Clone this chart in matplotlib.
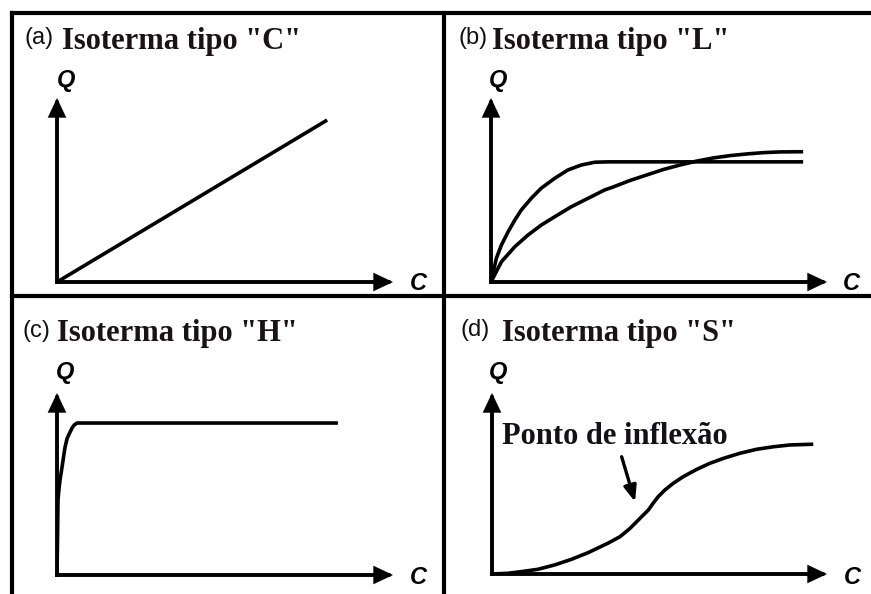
import matplotlib
matplotlib.use("Agg")
import matplotlib.pyplot as plt
from matplotlib.lines import Line2D

W, H = 871, 594

# (a) tipo C: reta
a_c = [0.0, 8.04]
a_q = [0.0, 8.80]

# (b) tipo L: duas curvas
b1_c = [0.0, 0.16, 0.31, 0.51, 0.71, 0.90, 1.20, 1.49, 1.90, 2.29, 2.69, 3.09, 3.48, 9.29]
b1_q = [0.0, 1.29, 2.01, 2.73, 3.37, 3.91, 4.55, 5.09, 5.64, 6.09, 6.36, 6.51, 6.53, 6.53]
b2_c = [0.0, 0.31, 0.71, 1.10, 1.50, 1.90, 2.39, 2.89, 3.38, 3.63, 4.14, 4.64,
        5.14, 5.63, 6.12, 6.61, 7.12, 7.62, 8.10, 8.60, 9.29]
b2_q = [0.0, 1.10, 1.92, 2.55, 3.10, 3.55, 4.09, 4.55, 5.00, 5.16, 5.52, 5.82,
        6.12, 6.36, 6.57, 6.74, 6.87, 6.96, 7.03, 7.07, 7.08]

# (c) tipo H
c_c = [0.0, 0.015, 0.03, 0.06, 0.09, 0.15, 0.20, 0.24, 0.30, 0.39, 0.45, 0.51, 0.60, 8.36]
c_q = [0.0, 1.92, 4.12, 4.75, 5.22, 5.93, 6.55, 7.03, 7.50, 7.86, 8.08, 8.24, 8.35, 8.35]

# (d) tipo S
d_c = [0.0, 0.48, 0.87, 1.37, 1.87, 2.37, 2.87, 3.46, 3.82, 4.12, 4.42, 4.67, 4.81,
       4.96, 5.16, 5.41, 5.71, 6.11, 6.51, 6.91, 7.40, 7.90, 8.40, 8.90, 9.59]
d_q = [0.0, 0.04, 0.13, 0.26, 0.50, 0.81, 1.18, 1.70, 2.06, 2.52, 3.08, 3.54, 3.91,
       4.27, 4.64, 5.01, 5.38, 5.78, 6.12, 6.39, 6.67, 6.89, 7.03, 7.13, 7.17]
d_arrow_from = (3.87, 6.48)
d_arrow_to = (4.27, 3.99)

tags = ["(a)", "(b)", "(c)", "(d)"]
titles = ['Isoterma tipo "C"', 'Isoterma tipo "L"', 'Isoterma tipo "H"', 'Isoterma tipo "S"']

# caixa dos eixos em pixels: esquerda, direita, base, topo
boxes = [(57, 393, 282, 98), (491, 827, 282, 98),
         (57, 393, 575, 393), (492, 827, 574, 393)]
# posicoes dos textos em pixels
tag_pos = [(24, 38), (458, 38), (22, 331), (460, 330)]
title_pos = [(62, 41), (492, 41), (57, 334), (502, 334)]
q_pos = [(66, 80), (498, 80), (65, 372), (498, 373)]
c_pos = [(418, 284), (851, 284), (418, 577), (852, 577)]


def fx(px):
    return px / W


def fy(py):
    return 1 - py / H


fig = plt.figure(figsize=(W / 100, H / 100), dpi=100)
fig.patch.set_facecolor("white")

# moldura
frame = [((12, 871), (13, 13)), ((12, 12), (13, 594)),
         ((444, 444), (13, 594)), ((12, 871), (296, 296))]
for xs, ys in frame:
    fig.add_artist(Line2D([fx(x) for x in xs], [fy(y) for y in ys],
                          color="black", lw=3.0, solid_capstyle="projecting",
                          transform=fig.transFigure))

axes = []
for (l, r, b, t) in boxes:
    ax = fig.add_axes([fx(l), fy(b), (r - l) / W, (b - t) / H])
    ax.set_xlim(0, 10)
    ax.set_ylim(0, 10)
    ax.axis("off")
    ax.patch.set_alpha(0)
    arr = dict(arrowstyle="-|>,head_length=0.95,head_width=0.45", lw=2.8,
               color="black", shrinkA=0, shrinkB=0, capstyle="projecting",
               joinstyle="miter")
    ax.annotate("", xy=(1, 0), xytext=(0, 0), xycoords="axes fraction",
                arrowprops=arr)
    ax.annotate("", xy=(0, 1), xytext=(0, 0), xycoords="axes fraction",
                arrowprops=arr)
    axes.append(ax)

curve = dict(color="black", lw=2.6, solid_joinstyle="round", solid_capstyle="butt")
axes[0].plot(a_c, a_q, **curve)
axes[1].plot(b1_c, b1_q, **curve)
axes[1].plot(b2_c, b2_q, **curve)
axes[2].plot(c_c, c_q, **curve)
axes[3].plot(d_c, d_q, **curve)

axes[3].text(0.3, 7.6, "Ponto de inflexão", family="Liberation Serif",
             fontweight="bold", fontsize=22, color="#141018",
             ha="left", va="center")
axes[3].annotate("", xy=d_arrow_to, xytext=d_arrow_from,
                 arrowprops=dict(arrowstyle="-|>,head_length=0.95,head_width=0.38",
                                 lw=2.4, color="black", shrinkA=0, shrinkB=0))

for i in range(4):
    fig.text(fx(tag_pos[i][0]), fy(tag_pos[i][1]), tags[i], family="Liberation Sans",
             fontsize=17, color="#111111", ha="left", va="center")
    fig.text(fx(title_pos[i][0]), fy(title_pos[i][1]), titles[i],
             family="Liberation Serif", fontweight="bold", fontsize=22,
             color="#1a1214", ha="left", va="center")
    fig.text(fx(q_pos[i][0]), fy(q_pos[i][1]), "Q", family="Liberation Sans",
             fontweight="bold", style="italic", fontsize=17, ha="center", va="center")
    fig.text(fx(c_pos[i][0]), fy(c_pos[i][1]), "C", family="Liberation Sans",
             fontweight="bold", style="italic", fontsize=17, ha="center", va="center")

fig.savefig("out.png", dpi=100, facecolor="white")
